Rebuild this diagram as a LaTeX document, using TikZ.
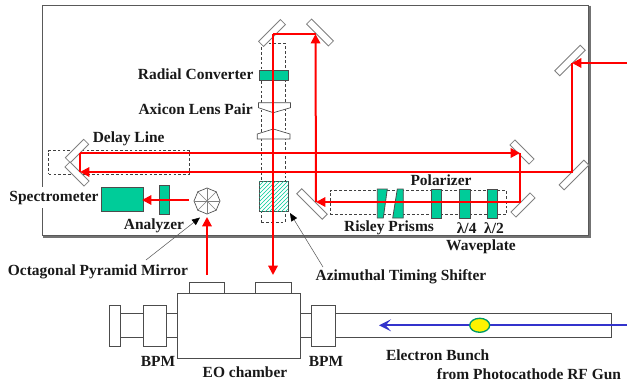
\documentclass[tikz,border=0pt]{standalone}
\usepackage{fontspec}
\setmainfont{Liberation Serif}
\usetikzlibrary{arrows.meta,shapes.geometric,patterns}
\definecolor{optgreen}{RGB}{0,204,153}
\definecolor{bunchgreen}{RGB}{0,153,102}
\definecolor{beamblue}{RGB}{51,51,204}
\definecolor{beamred}{RGB}{255,0,0}

\begin{document}
\begin{tikzpicture}[
                x=0.75pt, y=-0.75pt,
                font=\fontsize{11.6pt}{13pt}\selectfont\bfseries,
                size/.style 2 args={minimum width=#1*0.75pt, minimum height=#2*0.75pt, inner sep=0pt, outer sep=0pt},
                mirror/.style={rectangle, draw=gray, fill=white, line width=0.6pt, minimum width=#1*0.75pt, minimum height=7*0.75pt, inner sep=0pt},
                optic/.style={draw=black!70, fill=optgreen, line width=0.6pt},
                guide/.style={draw=black!75, line width=0.5pt, dash pattern=on 2pt off 1.6pt},
                pipe/.style={draw=black!70, fill=white, line width=0.7pt},
                beam/.style={draw=beamred, line width=1.5pt},
                beamhead/.style={beam, -{Triangle[length=7pt,width=7pt]}},
                pointer/.style={draw=black!65, line width=0.4pt, -{Triangle[length=6pt,width=5pt,color=black]}},
                label/.style={inner sep=0pt, text=black!90},
            ]
            \useasboundingbox (0,0) rectangle (627,385);

            % Optical table
            \node[rectangle, draw=black!65, line width=0.7pt, size={546}{229.5}] (table) at (315.5,120.5) {};
            \draw[black!55, line width=1.5pt] ([xshift=1pt]table.north east) -- ([shift={(1pt,-1pt)}]table.south east) -- ([yshift=-1pt]table.south west);

            % Dashed guides
            \node[guide, size={140.5}{23.5}] (delaybox) at (119,162.5) {};
            \node[guide, size={23.5}{179}] (axisbox) at (273.2,132.5) {};
            \node[guide, size={176.5}{23.5}] (polbox) at (418.5,202.5) {};

            % Mirrors
            \node[mirror=31, rotate=45]  (m1) at (272,33) {};
            \node[mirror=31, rotate=-45] (m2) at (320,32.5) {};
            \node[mirror=36, rotate=45]  (m3) at (570,60.5) {};
            \node[mirror=35, rotate=45]  (m4) at (574,175) {};
            \node[mirror=26, rotate=45]  (m5) at (77,151) {};
            \node[mirror=27, rotate=-45] (m6) at (77,174) {};
            \node[mirror=27, rotate=-45] (m7) at (522,152) {};
            \node[mirror=27, rotate=45]  (m8) at (523,205) {};
            \node[mirror=36, rotate=-45] (m9) at (312,204) {};

            % Optics along the axis
            \node[optic, size={28.5}{10.7}] (radial) at (273.7,75.3) {};
            \draw[draw=black!70, fill=white, line width=0.5pt] (258.5,102.7) -- (290.5,102.7) -- (290.5,107.7) -- (273.3,112.7) -- (258.5,107.7) -- cycle;
            \draw[draw=black!70, fill=white, line width=0.5pt] (257.3,134) -- (257.3,139) -- (290,139) -- (290,134) -- (273.3,129) -- cycle;
            \node[draw=black!70, fill=white, line width=0.6pt, size={28.5}{30}] (shifterbg) at (273.7,196.7) {};
            \node[size={28.5}{30}, pattern=north east lines, pattern color=optgreen] (shifter) at (273.7,196.7) {};

            % Analyzer side
            \node[optic, size={41.6}{24.7}] (spec) at (122.5,199.3) {};
            \node[optic, size={10.7}{29}] (analyzer) at (164.3,199.5) {};
            \node[regular polygon, regular polygon sides=8, shape border rotate=22.5, draw=black!70, fill=white, line width=0.5pt, minimum size=26*0.75pt, inner sep=0pt] (octagon) at (207,201) {};
            \foreach \a in {1,...,8}
            \draw[black!50, line width=0.4pt] (octagon.center) -- (octagon.corner \a);

            % Polarizer line
            \draw[optic] (377.3,189) -- (387.3,189) -- (383.3,218) -- (377.3,218) -- cycle;
            \draw[optic] (397.3,189) -- (403.3,189) -- (403.3,218) -- (392.7,218) -- cycle;
            \node[optic, size={10.4}{29}] (polarizer) at (436.5,203.5) {};
            \node[optic, size={10.7}{29}] (quarter) at (464.7,203.5) {};
            \node[optic, size={10.7}{29}] (half) at (492.4,203.5) {};

            % Beamline
            \node[pipe, size={312}{24}, anchor=east] (tube) at (611.7,325.3) {};
            \node[pipe, size={70}{24}] (tubeleft) at (150,325.3) {};
            \node[pipe, size={11.4}{41}] (flange) at (115,325.8) {};
            \node[pipe, size={23.4}{41}] (bpmleft) at (155,325.8) {};
            \node[pipe, size={24}{41}] (bpmright) at (323.7,325.8) {};
            \node[pipe, size={35}{10.6}] (portleft) at (206.8,288) {};
            \node[pipe, size={35.3}{10.6}] (portright) at (273.6,288) {};
            \node[pipe, size={122.6}{65}] (chamber) at (239,325.8) {};

            % Laser path
            \coordinate (in) at (627,63);
            \coordinate (t1) at (572,63);
            \coordinate (t2) at (572,172);
            \coordinate (t3) at (80,172);
            \coordinate (t4) at (80,153);
            \coordinate (t5) at (520,153);
            \coordinate (t6) at (520,202);
            \coordinate (t7) at (316,202);
            \coordinate (t8) at (315.5,34);
            \coordinate (t9) at (273,34);
            \coordinate (eo) at (273,275);
            \coordinate (back) at (207,275);
            \coordinate (backend) at (207,217);
            \coordinate (sa) at (189,200);
            \coordinate (sb) at (142,200);
            \draw[beamhead] (in) -- (t1);
            \draw[beamhead] (t1) -- (t2) -- (t3);
            \draw[beam] (t3) -- (t4);
            \draw[beamhead] (t4) -- (t5);
            \draw[beamhead] (t5) -- (t6) -- (t7);
            \draw[beamhead] (t7) -- (t8);
            \draw[beam] (t8) -- (t9);
            \draw[beamhead] (t9) -- (eo);
            \draw[beamhead] (back) -- (backend);
            \draw[beamhead] (sa) -- (sb);

            % Electron bunch
            \coordinate (gun) at (627,325.3);
            \coordinate (tip) at (379,325.3);
            \draw[beamblue, line width=1.5pt, -{Stealth[length=9pt,width=9pt,inset=4pt]}] (gun) -- (tip);
            \node[ellipse, draw=bunchgreen, fill=yellow, line width=1pt, size={20}{14}] (bunch) at (479.7,325.3) {};

            % Labels
            \node[label] (lradial) at (195.7,74) {Radial Converter};
            \node[label] (laxicon) at (195.7,109) {Axicon Lens Pair};
            \node[label] (ldelay) at (128.7,138.7) {Delay Line};
            \node[label, fill=white, inner ysep=3pt, inner xsep=1pt] (lspec) at (54,197.7) {Spectrometer};
            \node[label] (lanalyzer) at (154,226) {Analyzer};
            \node[label] (lpolarizer) at (441,180.7) {Polarizer};
            \node[label] (lrisley) at (389,228) {Risley Prisms};
            \node[label] (lquarter) at (466.7,228) {λ/4};
            \node[label] (lhalf) at (494,228) {λ/2};
            \node[label] (lwave) at (481,246.7) {Waveplate};
            \node[label] (loct) at (98,272) {Octagonal Pyramid Mirror};
            \node[label] (lazi) at (401,277) {Azimuthal Timing Shifter};
            \node[label] (lbpma) at (158,361.7) {BPM};
            \node[label] (leo) at (245,372) {EO chamber};
            \node[label] (lbpmb) at (326,361.7) {BPM};
            \node[label] (lbunch) at (437.7,355) {Electron Bunch};
            \node[label] (lgun) at (529,374) {from Photocathode RF Gun};

            % Pointers
            \coordinate (poct) at (146,260);
            \coordinate (pazi) at (323,267);
            \coordinate (poctend) at (200,217.5);
            \coordinate (paziend) at (290,213);
            \draw[pointer] (poct) -- (poctend);
            \draw[pointer] (pazi) -- (paziend);
        \end{tikzpicture}
\end{document}
